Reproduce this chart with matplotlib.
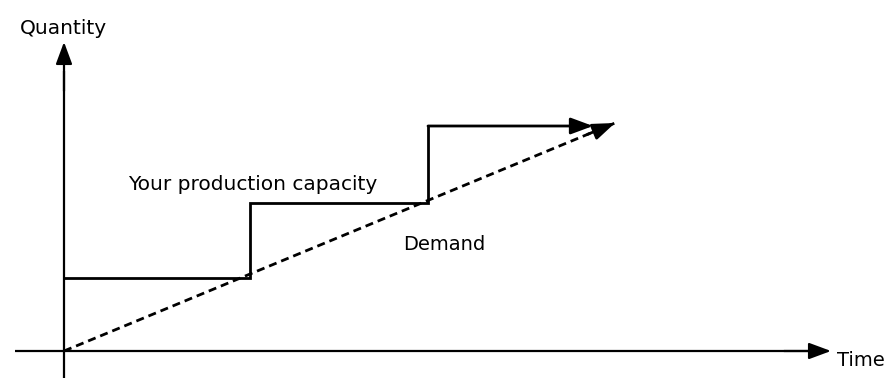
import matplotlib
matplotlib.use("Agg")
import matplotlib.pyplot as plt

# Data (units measured from origin)
cap_x = [0, 186, 186, 364, 364, 529]
cap_y = [73, 73, 148, 148, 225, 225]
dem_x = [0, 551]
dem_y = [0, 228]

labels = {
    "ylabel": "Quantity",
    "xlabel": "Time",
    "capacity": "Your production capacity",
    "demand": "Demand",
}

plt.rcParams['font.family'] = ['DejaVu Sans']
fig = plt.figure(figsize=(8.86, 3.78), dpi=100)
ax = fig.add_axes([0, 0, 1, 1])
ax.set_xlim(-64, 822)
ax.set_ylim(-27, 351)
ax.axis('off')

arrow_kw = dict(arrowstyle='-|>,head_length=1.35,head_width=0.5', color='black',
                lw=1.6, shrinkA=0, shrinkB=0, mutation_scale=10)

# axes
ax.plot([-49, 750], [0, 0], color='black', lw=1.6, solid_capstyle='butt')
ax.annotate('', xy=(767, 0), xytext=(720, 0), arrowprops=arrow_kw)
ax.plot([0, 0], [-27, 280], color='black', lw=1.6, solid_capstyle='butt')
ax.annotate('', xy=(0, 309), xytext=(0, 260), arrowprops=arrow_kw)

# capacity step line
ax.plot(cap_x[:-1], cap_y[:-1], color='black', lw=2, solid_joinstyle='miter')
ax.annotate('', xy=(cap_x[-1], cap_y[-1]), xytext=(cap_x[-2], cap_y[-2]),
            arrowprops=dict(arrow_kw, lw=2))

# demand dashed line
ax.plot(dem_x, dem_y, color='black', lw=2, linestyle=(0, (2.9, 1.8)))
ax.annotate('', xy=(dem_x[1], dem_y[1]),
            xytext=(dem_x[1] - (dem_x[1] - dem_x[0]) * 0.05, dem_y[1] - (dem_y[1] - dem_y[0]) * 0.05),
            arrowprops=dict(arrow_kw, lw=2))

fs = 14.5
ax.text(-1, 323, labels["ylabel"], ha='center', va='center', fontsize=fs)
ax.text(773, -9, labels["xlabel"], ha='left', va='center', fontsize=14)
ax.text(64, 166, labels["capacity"], ha='left', va='center', fontsize=fs)
ax.text(339, 106, labels["demand"], ha='left', va='center', fontsize=14)

fig.savefig("out.png", dpi=100)
